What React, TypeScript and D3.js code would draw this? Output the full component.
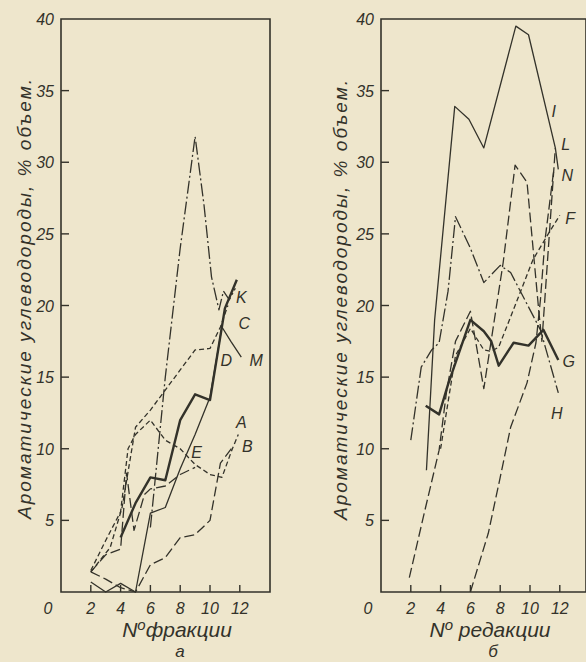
import React, {Component} from 'react';
import * as d3 from 'd3';

const yTicks = [5, 10, 15, 20, 25, 30, 35, 40];
const xTicks = [2, 4, 6, 8, 10, 12];
const yTitle = 'Ароматические углеводороды, % объем.';

// а — по фракциям
const fracA = [[2,1.5],[3,3.6],[4,5.6],[4.5,10],[5,11],[6,12],[7,10.6],[8,10],[9,8.9],[10,8.2],[10.8,8],[11.5,10],[11.9,11]];
const fracB = [[2,1.4],[3,0.9],[4,0.3],[5,0],[6,1.9],[7,2.4],[8,3.8],[9,4],[10,5],[10.7,9],[11.5,10.1]];
const fracC = [[4,3.8],[5,6.2],[6,8],[7,7.8],[8,12],[9,13.8],[10,13.4],[11,19.8],[11.8,21.8]];
const fracD = [[2,1.4],[3.3,3.1],[4.1,5.9],[5,11.5],[6,12.7],[7,14.1],[8,15.5],[9,16.9],[10,17],[10.7,18.5],[11.2,20]];
const fracE = [[2,1.4],[3,2.6],[4,3],[4.4,8.3],[4.9,4.3],[5.6,6.8],[6,7.2],[7,7.4],[8,8.2],[9,8.7]];
const fracK = [[6,4.5],[7,15],[8,24],[9,31.8],[9.6,27],[10.1,22],[10.6,19.7],[10.9,21],[11.3,20.4],[11.7,21.2]];
const fracM = [[2,0.7],[3,0],[4,0.6],[5,0],[6,5.5],[7,5.9],[8,8.6],[9,11],[10,13.6],[10.8,18.5],[11.4,17.5],[12.1,16.4]];

// б — по редакциям
const redI = [[3.05,8.5],[3.6,19],[4.95,33.9],[5.9,33],[6.9,31],[9.05,39.5],[9.9,38.9],[11.7,31],[11.9,29.5]];
const redG = [[3,13],[3.9,12.4],[4.5,14.5],[5,16],[6,19],[6.9,18.2],[7.4,17.5],[7.9,15.8],[8.9,17.4],[9.9,17.2],[10.9,18.3],[11.9,16.2]];
const redH = [[2,10.6],[2.7,15.7],[3.4,16.9],[3.9,17.4],[4.5,21],[5,26.2],[6,24],[6.9,21.6],[8,22.8],[8.7,22.3],[10.7,18.3],[11.9,13.9]];
const redL = [[1.9,1],[2.9,5.5],[3.9,9.9],[4.4,14],[5,17.5],[6,19.6],[6.9,14.2],[8.2,23],[9,29.8],[9.8,28.6],[10.6,19.5],[10.8,17.5],[11.3,25],[11.7,31]];
const redN = [[6,0],[7.2,4.1],[8,8],[8.7,11.5],[9.8,14.6],[10.4,17.4],[10.7,20.4],[11,24.5],[11.6,29.5]];
const redF = [[4,10],[5,16.5],[6,18.4],[6.9,16.9],[7.4,16.8],[7.9,17.1],[9,20],[10.2,23.2],[11.4,25.3],[12,26.3]];

// curve letters (data units)
const notesA = [['K',12.1,20.6],['C',12.3,18.8],['D',11.1,16.2],['M',13.1,16.2],['A',12.1,11.9],['B',12.5,10.2],['E',9.1,9.8]];
const notesB = [['I',11.6,33.6],['L',12.4,31.3],['N',12.5,29.1],['F',12.7,26.1],['G',12.6,16.1],['H',11.8,12.5]];

const ink = '#33322a';
const font = "'Liberation Sans','Arial',sans-serif";
const styles = {
  thick: {w: 2.4, dash: null},
  thin: {w: 1.3, dash: null},
  dash: {w: 1.3, dash: '10,4'},
  short: {w: 1.3, dash: '5,3'},
  dashdot: {w: 1.3, dash: '13,3,2,3'},
};

class App extends Component {
  el = null;

  drawPanel(svg, x0, right, lines, notes, xTitle, letter) {
    const x = d3.scaleLinear().domain([0, 14]).range([x0, x0 + 14 * 14.9]);
    const y = d3.scaleLinear().domain([0, 40]).range([592, 19]);
    const g = svg.append('g');

    g.append('path')
      .attr('d', `M${x0},${y(40)}H${right}V${y(0)}H${x0}Z`)
      .attr('fill', 'none').attr('stroke', ink).attr('stroke-width', 1.6);

    g.selectAll('.yt').data(yTicks.slice(0, -1)).join('line')
      .attr('x1', x0).attr('x2', x0 + 8)
      .attr('y1', d => y(d)).attr('y2', d => y(d))
      .attr('stroke', ink).attr('stroke-width', 1.4);
    g.selectAll('.xt').data(xTicks).join('line')
      .attr('x1', d => x(d)).attr('x2', d => x(d))
      .attr('y1', y(0)).attr('y2', y(0) - 7)
      .attr('stroke', ink).attr('stroke-width', 1.4);

    const txt = {'font-family': font, 'font-style': 'italic', fill: ink};
    const ylab = g.selectAll('.yl').data(yTicks).join('text')
      .attr('x', x0 - 7).attr('y', d => y(d) + 6)
      .attr('text-anchor', 'end').attr('font-size', 16)
      .text(d => d);
    const xlab = g.selectAll('.xl').data([0, ...xTicks]).join('text')
      .attr('x', d => d === 0 ? x0 - 13 : x(d)).attr('y', 614)
      .attr('text-anchor', 'middle').attr('font-size', 16)
      .text(d => d);
    [ylab, xlab].forEach(s => Object.entries(txt).forEach(([k, v]) => s.attr(k, v)));

    const line = d3.line().x(d => x(d[0])).y(d => y(d[1]));
    lines.forEach(([data, st]) => {
      g.append('path').attr('d', line(data))
        .attr('fill', 'none').attr('stroke', ink)
        .attr('stroke-width', styles[st].w)
        .attr('stroke-dasharray', styles[st].dash)
        .attr('stroke-linejoin', 'round');
    });

    g.selectAll('.nt').data(notes).join('text')
      .attr('x', d => x(d[1])).attr('y', d => y(d[2]) + 6)
      .attr('text-anchor', 'middle').attr('font-size', 16)
      .attr('font-family', font).attr('font-style', 'italic').attr('fill', ink)
      .text(d => d[0]);

    // titles
    const tx = svg.append('text')
      .attr('x', xTitle[1]).attr('y', 637)
      .attr('text-anchor', 'middle').attr('font-size', 21)
      .attr('font-family', font).attr('font-style', 'italic').attr('fill', ink);
    tx.append('tspan').text('N');
    tx.append('tspan').attr('font-size', 15).attr('dy', -7).text('o');
    tx.append('tspan').attr('dy', 7).text(xTitle[0]);
    svg.append('text').attr('x', xTitle[1] + 3).attr('y', 657)
      .attr('text-anchor', 'middle').attr('font-size', 17)
      .attr('font-family', font).attr('font-style', 'italic').attr('fill', ink)
      .text(letter);
  }

  drawChart() {
    const svg = d3.select(this.el).append('svg')
      .attr('width', 586).attr('height', 662)
      .style('position', 'absolute').style('left', 0).style('top', 0);
    svg.append('rect').attr('width', 586).attr('height', 662).attr('fill', '#eee6cc');

    [[24, 299], [340, 300]].forEach(([cx, cy]) => {
      svg.append('text')
        .attr('transform', `translate(${cx},${cy}) rotate(-90)`)
        .attr('text-anchor', 'middle').attr('dominant-baseline', 'central')
        .attr('font-size', 19).attr('textLength', 440).attr('lengthAdjust', 'spacing')
        .attr('font-family', font).attr('font-style', 'italic').attr('fill', ink)
        .text(yTitle);
    });

    this.drawPanel(svg, 61, 270,
      [[fracA, 'short'], [fracB, 'dash'], [fracC, 'thick'], [fracD, 'short'],
       [fracE, 'dash'], [fracK, 'dashdot'], [fracM, 'thin']],
      notesA, ['фракции', 177], 'а');
    this.drawPanel(svg, 381, 586,
      [[redI, 'thin'], [redG, 'thick'], [redH, 'dashdot'], [redL, 'dash'],
       [redN, 'dash'], [redF, 'short']],
      notesB, [' редакции', 490], 'б');
  }

  componentDidMount() {
    if (this.el && !this.el.firstChild) this.drawChart();
  }

  render() {
    return <div ref={el => (this.el = el)}></div>;
  }
}

export default App;
